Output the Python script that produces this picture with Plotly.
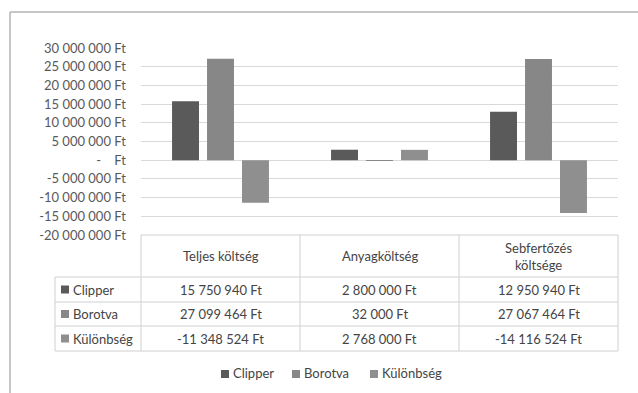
import plotly.graph_objects as go

# Cost categories and series values (Ft)
categories = ["Teljes költség", "Anyagköltség", "Sebfertőzés költsége"]
series_names = ["Clipper", "Borotva", "Különbség"]
clipper = [15750940, 2800000, 12950940]
borotva = [27099464, 32000, 27067464]
kulonbseg = [-11348524, 2768000, -14116524]
series_values = [clipper, borotva, kulonbseg]
series_colors = ["#5a5a5a", "#878787", "#8f8f8f"]

y_ticks = [30000000, 25000000, 20000000, 15000000, 10000000, 5000000, 0,
           -5000000, -10000000, -15000000, -20000000]

W, H = 638, 393
PL, PR, PT, PB = 141, 618, 48, 235  # plot area in pixels

FONT = "Lato"
TICK_COLOR = "#595959"
TEXT_COLOR = "#444444"
GRID = "#d9d9d9"
TABLE_LINE = "#d0d0d0"


def ft(v):
    if v == 0:
        return "-    Ft"
    return f"{v:,}".replace(",", " ") + " Ft"


def px(x):
    return (x - PL) / (PR - PL)


def py(y):
    return (PB - y) / (PB - PT)


fig = go.Figure()
for name, vals, col in zip(series_names, series_values, series_colors):
    fig.add_trace(go.Bar(x=categories, y=vals, name=name, marker_color=col,
                         marker_line_width=0, showlegend=False))

shapes = []
annotations = []

# Outer chart frame (top and left edges)
shapes.append(dict(type="line", xref="paper", yref="paper", x0=px(10), x1=px(640),
                   y0=py(12), y1=py(12), line=dict(color="#b3b3b3", width=1.5)))
shapes.append(dict(type="line", xref="paper", yref="paper", x0=px(10), x1=px(10),
                   y0=py(12), y1=py(395), line=dict(color="#b3b3b3", width=1.5)))

# Data table grid
row_lines = [277, 302, 326, 351]
col_lines = [141, 300, 459, 618]
shapes.append(dict(type="line", xref="paper", yref="paper", x0=px(141), x1=px(618),
                   y0=py(235), y1=py(235), line=dict(color=TABLE_LINE, width=1)))
for yl in row_lines:
    shapes.append(dict(type="line", xref="paper", yref="paper", x0=px(55), x1=px(618),
                       y0=py(yl), y1=py(yl), line=dict(color=TABLE_LINE, width=1)))
for xl in col_lines:
    shapes.append(dict(type="line", xref="paper", yref="paper", x0=px(xl), x1=px(xl),
                       y0=py(235), y1=py(351), line=dict(color=TABLE_LINE, width=1)))
shapes.append(dict(type="line", xref="paper", yref="paper", x0=px(55), x1=px(55),
                   y0=py(277), y1=py(351), line=dict(color=TABLE_LINE, width=1)))

# Header cells
for cat in categories:
    label = cat.replace(" ", "<br>") if len(cat) > 15 else cat
    annotations.append(dict(x=cat, xref="x", y=py(256), yref="paper", text=label,
                            showarrow=False, xanchor="center", yanchor="middle",
                            font=dict(family=FONT, size=13, color=TEXT_COLOR)))

# Value rows with series keys
row_centers = [289.5, 314, 338.5]
for name, vals, col, yc in zip(series_names, series_values, series_colors, row_centers):
    shapes.append(dict(type="rect", xref="paper", yref="paper", x0=px(61), x1=px(69),
                       y0=py(yc - 4), y1=py(yc + 4), fillcolor=col, line=dict(width=0)))
    annotations.append(dict(x=px(71), xref="paper", y=py(yc), yref="paper", text=name,
                            showarrow=False, xanchor="left", yanchor="middle",
                            font=dict(family=FONT, size=13, color=TEXT_COLOR)))
    for cat, v in zip(categories, vals):
        annotations.append(dict(x=cat, xref="x", y=py(yc), yref="paper", text=ft(v),
                                showarrow=False, xanchor="center", yanchor="middle",
                                font=dict(family=FONT, size=13, color=TEXT_COLOR)))

# Legend beneath the table
legend_x = [221, 292, 370]
for name, col, lx in zip(series_names, series_colors, legend_x):
    shapes.append(dict(type="rect", xref="paper", yref="paper", x0=px(lx), x1=px(lx + 8),
                       y0=py(370), y1=py(378), fillcolor=col, line=dict(width=0)))
    annotations.append(dict(x=px(lx + 10), xref="paper", y=py(373), yref="paper", text=name,
                            showarrow=False, xanchor="left", yanchor="middle",
                            font=dict(family=FONT, size=13, color=TEXT_COLOR)))

fig.update_layout(
    width=W, height=H, autosize=False,
    margin=dict(l=PL, r=W - PR, t=PT, b=H - PB, pad=0),
    paper_bgcolor="white", plot_bgcolor="white",
    barmode="group", bargap=0.34, bargroupgap=0.23,
    shapes=shapes, annotations=annotations,
    xaxis=dict(showticklabels=False, showgrid=False, zeroline=False, ticks="",
               showline=False, range=[-0.5, 2.5]),
    yaxis=dict(range=[-20000000, 30000000], tickvals=y_ticks,
               ticktext=[ft(v) for v in y_ticks], showgrid=True, gridcolor=GRID,
               gridwidth=1, zeroline=True, zerolinecolor=GRID, zerolinewidth=1,
               showline=False, ticks="", ticklabelstandoff=14,
               tickfont=dict(family=FONT, size=13, color=TICK_COLOR)),
)

fig.write_html("out.html")
